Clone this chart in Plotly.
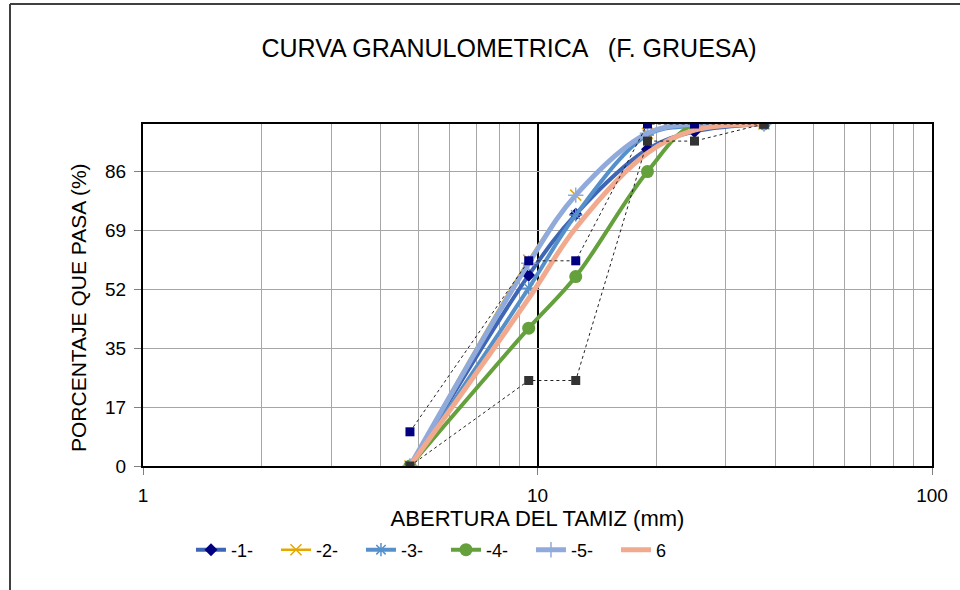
import plotly.graph_objects as go

# Sieve openings (mm)
sieves = [4.75, 9.5, 12.5, 19.0, 25.0, 37.5]

# Percent passing per sample
s1 = [0, 55.8, 73.6, 92.6, 97.8, 100]
s2 = [0, 60.2, 79.2, 97.3, 100, 100]
s3 = [0, 52.0, 73.4, 96.8, 99.5, 100]
s4 = [0, 40.3, 55.4, 86.1, 100, 100]
s5 = [0, 59.3, 79.2, 97.3, 100, 100]
s6 = [0, 49.0, 69.6, 91.5, 98.2, 100]

# Gradation limits
upper = [10, 60, 60, 100, 100, 100]
lower = [0, 25, 25, 95, 95, 100]

names = ["-1-", "-2-", "-3-", "-4-", "-5-", "6"]

y_tickvals = [0, 17.25, 34.5, 51.75, 69.0, 86.25]
y_ticktext = ["0", "17", "35", "52", "69", "86"]
x_tickvals = [1, 10, 100]
x_ticktext = ["1", "10", "100"]

FONT = "Liberation Sans, Arial, sans-serif"
W, H = 960, 590
L, T = 143, 124
PW, PH = 789, 342

fig = go.Figure()

styles = [
    (s1, "#3F66B4", 4, dict(symbol="diamond", size=10, color="#000080")),
    (s2, "#E6A800", 2.5, dict(symbol="x-thin-open", size=11, color="#E6A800", line=dict(width=1.5, color="#E6A800"))),
    (s3, "#5590CB", 4, dict(symbol="asterisk-open", size=11, color="#5590CB", line=dict(width=1.5, color="#5590CB"))),
    (s4, "#64A03C", 4, dict(symbol="circle", size=13, color="#64A03C")),
    (s5, "#91AADC", 5, dict(symbol="cross-thin-open", size=11, color="#91AADC", line=dict(width=1.5, color="#91AADC"))),
    (s6, "#F2AA8E", 5, None),
]
for (ys, col, w, mk), nm in zip(styles, names):
    if mk is None:
        fig.add_trace(go.Scatter(x=sieves, y=ys, name=nm, mode="lines",
                                 line=dict(color=col, width=w, shape="spline")))
    else:
        fig.add_trace(go.Scatter(x=sieves, y=ys, name=nm, mode="lines+markers",
                                 line=dict(color=col, width=w, shape="spline"), marker=mk))

# limit curves (not in legend)
fig.add_trace(go.Scatter(x=sieves, y=upper, mode="lines+markers", showlegend=False,
                         line=dict(color="#222222", width=1, dash="dot"),
                         marker=dict(symbol="square", size=9, color="#000080")))
fig.add_trace(go.Scatter(x=sieves, y=lower, mode="lines+markers", showlegend=False,
                         line=dict(color="#222222", width=1, dash="dot"),
                         marker=dict(symbol="square", size=9, color="#333333")))

fig.update_layout(
    width=W, height=H,
    margin=dict(l=L, r=W - L - PW, t=T, b=H - T - PH),
    paper_bgcolor="white", plot_bgcolor="white",
    font=dict(family=FONT, size=19, color="black"),
    title=dict(text="CURVA GRANULOMETRICA \u00a0 (F. GRUESA)", x=509 / W, xanchor="center",
               y=1 - 48 / H, yanchor="middle", font=dict(size=25, family=FONT, color="black")),
    showlegend=True,
    legend=dict(orientation="h", x=0.384, xanchor="center", y=-0.2456, yanchor="middle",
                font=dict(size=18, family=FONT), bgcolor="rgba(0,0,0,0)",
                entrywidth=40, tracegroupgap=0),
    xaxis=dict(type="log", range=[0, 2], tickvals=x_tickvals, ticktext=x_ticktext,
               showgrid=True, gridcolor="black", gridwidth=2,
               minor=dict(showgrid=True, gridcolor="#A6A6A6", gridwidth=1,
                          dtick="D1", ticks=""),
               ticks="outside", ticklen=7, tickcolor="#7F7F7F", ticklabelstandoff=4,
               showline=True, linecolor="black", linewidth=2, mirror=True,
               zeroline=False,
               title=dict(text="ABERTURA DEL TAMIZ (mm)", font=dict(size=22), standoff=0),
               tickfont=dict(size=19)),
    yaxis=dict(range=[0, 100], tickvals=y_tickvals, ticktext=y_ticktext,
               showgrid=True, gridcolor="#A6A6A6", gridwidth=1,
               ticks="outside", ticklen=7, tickcolor="#7F7F7F", ticklabelstandoff=4,
               showline=True, linecolor="black", linewidth=2, mirror=True,
               zeroline=False,
               tickfont=dict(size=19)),
    annotations=[
        dict(text="PORCENTAJE QUE PASA (%)", xref="paper", yref="paper",
             x=(78 - L) / PW, y=(T + PH - 308) / PH, xanchor="center", yanchor="middle",
             textangle=-90, showarrow=False, font=dict(size=21, family=FONT, color="black")),
    ],
    shapes=[
        dict(type="line", xref="paper", yref="paper", x0=-133 / PW, x1=-133 / PW, y0=-0.5, y1=462 / PH,
             line=dict(color="#404040", width=2)),
        dict(type="line", xref="paper", yref="paper", x0=-133 / PW, x1=1.2, y0=462 / PH, y1=462 / PH,
             line=dict(color="#404040", width=2)),
    ],
)

fig.write_html("out.html", post_script="document.body.style.margin='0';",
               config={"displayModeBar": False})
